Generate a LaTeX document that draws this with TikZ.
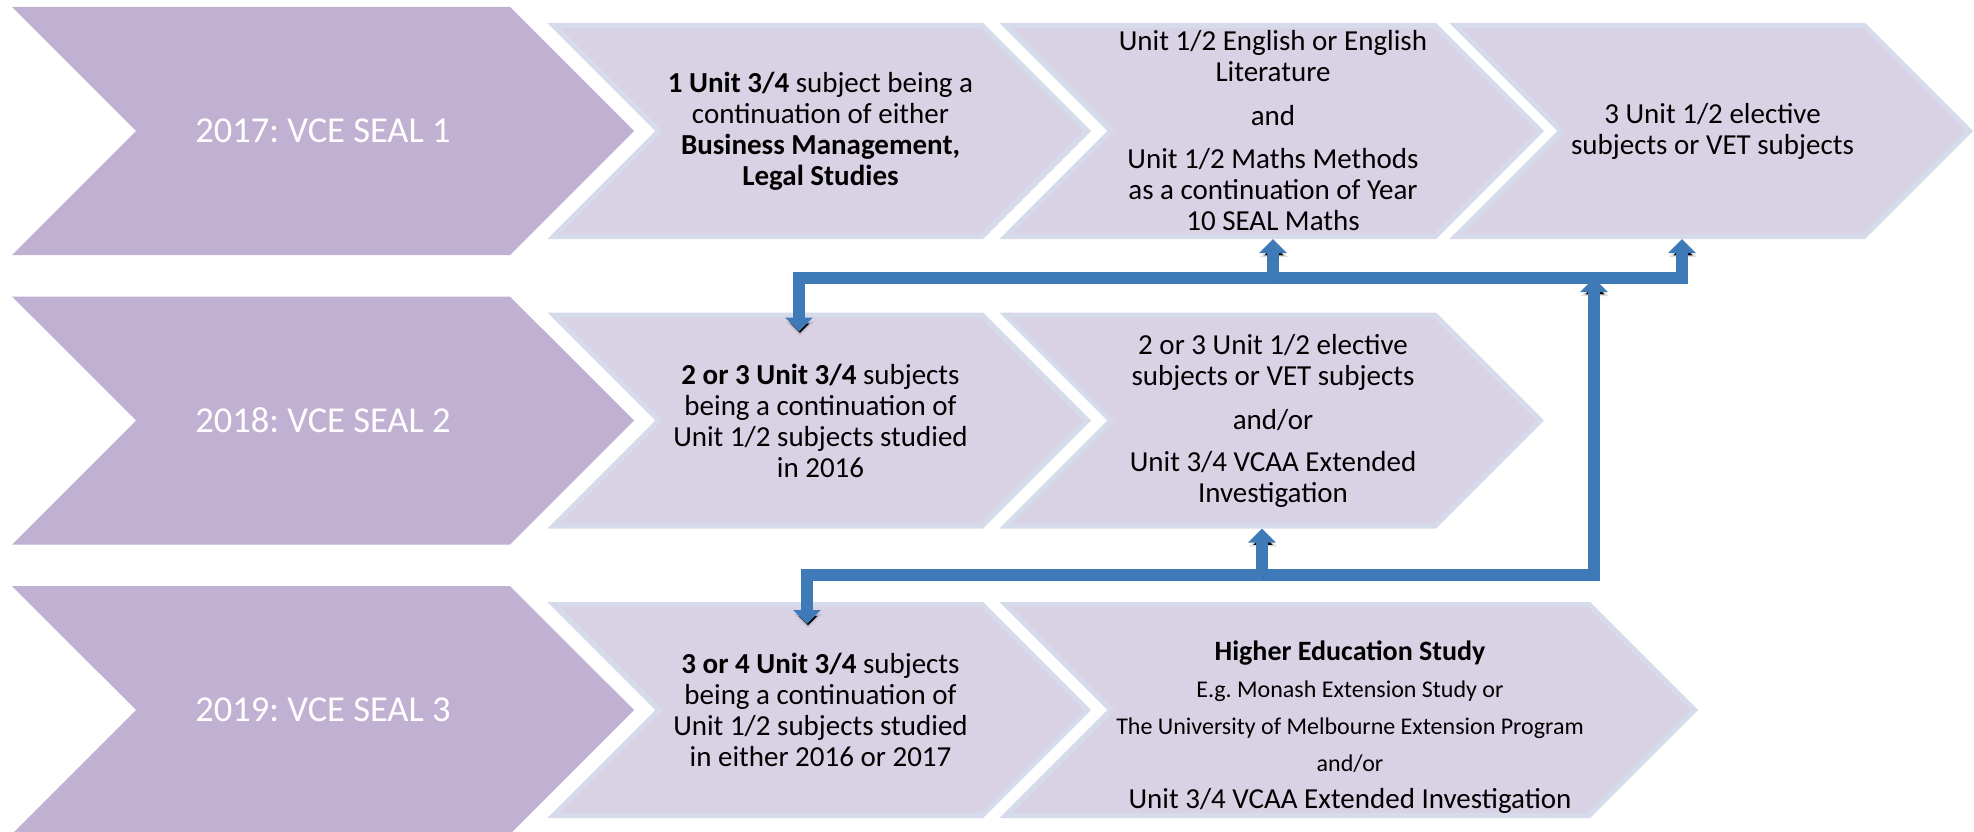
\documentclass[tikz,border=0pt]{standalone}
\usepackage{fontspec}
\setmainfont{Carlito}
\usetikzlibrary{shapes,arrows.meta}
\definecolor{yearfill}{RGB}{192,177,211}
\definecolor{stagefill}{RGB}{217,210,228}
\definecolor{stageline}{RGB}{213,219,234}
\definecolor{linkblue}{RGB}{62,122,183}
\newcommand{\titlefont}{\fontsize{36.5}{44}\selectfont}
\newcommand{\bodyfont}{\fontsize{29}{31}\selectfont}
\newcommand{\smallfont}{\fontsize{24}{37}\selectfont}
\frenchspacing

\begin{document}
\begin{tikzpicture}[x=1pt,y=-1pt,>={Triangle[width=27pt,length=14pt]}]
\tikzstyle{year}=[signal,signal from=west,signal to=east,fill=yearfill,text=white,font=\titlefont,minimum width=622pt,minimum height=248pt,inner sep=0pt]
\tikzstyle{stage}=[signal,signal from=west,signal to=east,fill=stagefill,draw=stageline,line width=5pt,minimum height=211pt,inner sep=0pt,align=center,font=\bodyfont]
\tikzstyle{link}=[draw=linkblue,line width=12pt,preaction={draw=black,draw opacity=0.12,transform canvas={shift={(1pt,-4pt)}}}]
\useasboundingbox (0,0) rectangle (1974,832);

\node[year] (a1) at (323,131) {2017: VCE SEAL 1};
\node[year] (a2) at (323,420.5) {2018: VCE SEAL 2};
\node[year] (a3) at (323,710) {2019: VCE SEAL 3};

\node[stage,minimum width=534pt] (b1) at (820.5,131) {\textbf{1 Unit 3/4} subject being a\\continuation of either\\\textbf{Business Management,}\\\textbf{Legal Studies}};
\node[stage,minimum width=535pt] (c1) at (1273,131) {Unit 1/2 English or English\\Literature\\[13pt]and\\[12pt]Unit 1/2 Maths Methods\\as a continuation of Year\\10 SEAL Maths};
\node[stage,minimum width=514pt] (d1) at (1712.5,131) {3 Unit 1/2 elective\\subjects or VET subjects};

\node[stage,minimum width=534pt] (b2) at (820.5,420.5) {\textbf{2 or 3 Unit 3/4} subjects\\being a continuation of\\Unit 1/2 subjects studied\\in 2016};
\node[stage,minimum width=535pt] (c2) at (1273,420.5) {2 or 3 Unit 1/2 elective\\subjects or VET subjects\\[13pt]and/or\\[11pt]Unit 3/4 VCAA Extended\\Investigation};

\node[stage,minimum width=534pt] (b3) at (820.5,710) {\textbf{3 or 4 Unit 3/4} subjects\\being a continuation of\\Unit 1/2 subjects studied\\in either 2016 or 2017};
\node[stage,minimum width=689pt] (c3) at (1350,710) {};
\node[align=center,font=\smallfont] (c3txt) at ([yshift=-17.5pt]c3.center) {{\fontsize{28}{37}\selectfont\bfseries Higher Education Study}\\E.g. Monash Extension Study or\\The University of Melbourne Extension Program\\and/or\\{\fontsize{29}{37}\selectfont Unit 3/4 VCAA Extended Investigation}};

\coordinate (upL) at (799,278);
\coordinate (upR) at (1682,278);
\coordinate (loL) at (807,575);
\coordinate (loM) at (1262,575);
\coordinate (loR) at (1594,575);

\draw[link,<->] ([yshift=-19pt]upL |- b2.north) -- (upL) -- (upR) -- (upR |- d1.south);
\draw[link,->] (upL -| c1.south) -- (c1.south);
\draw[link,<->] ([yshift=-22pt]loL |- b3.north) -- (loL) -- (loR) -- (loR |- upL);
\draw[link,->] (loM) -- (loM |- c2.south);
\end{tikzpicture}
\end{document}
